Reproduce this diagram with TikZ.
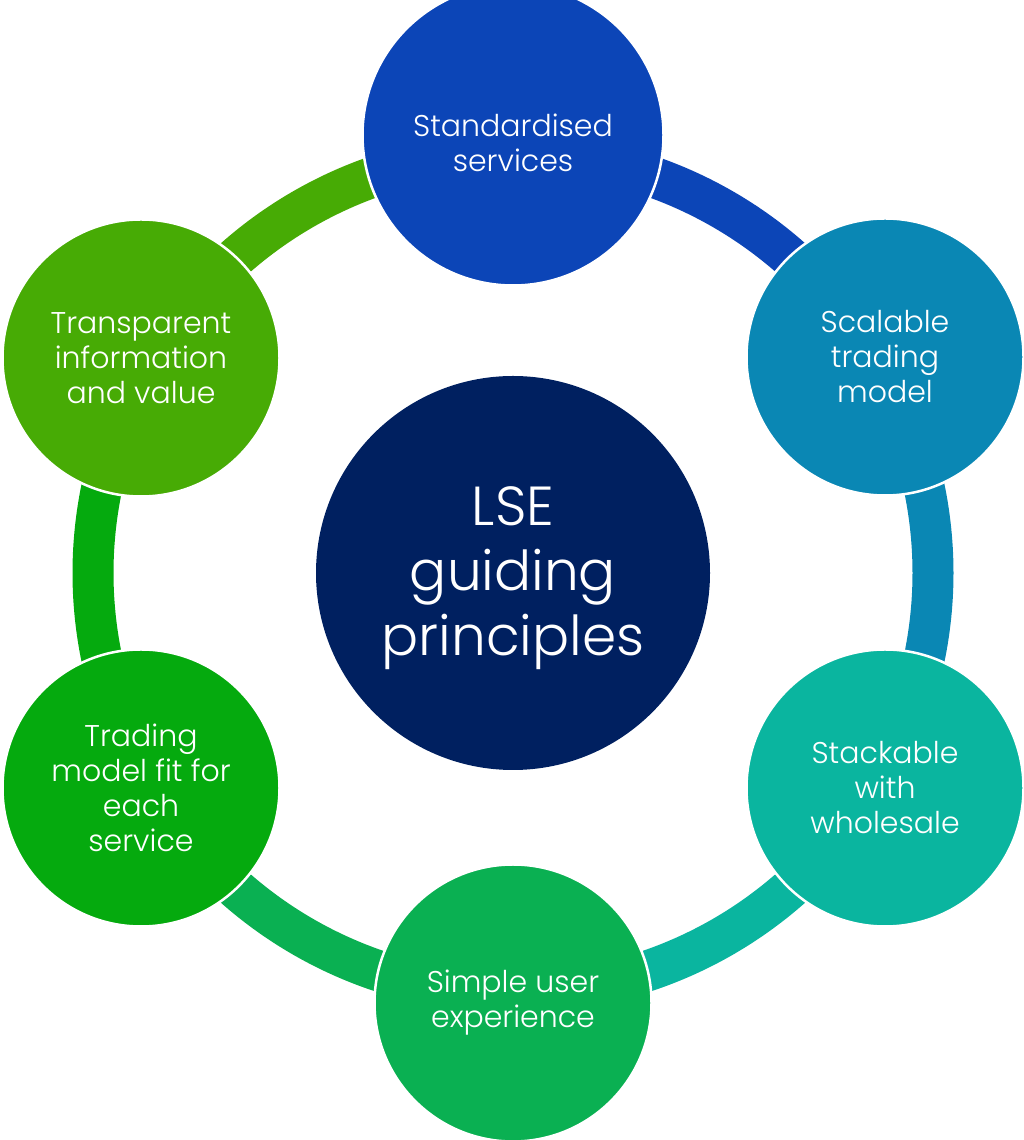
\documentclass[tikz,border=0pt]{standalone}
\usepackage{fontspec}
\setmainfont{Poppins}[UprightFont=* Light]
\definecolor{cA}{HTML}{0C45B7}
\definecolor{cB}{HTML}{0A87B4}
\definecolor{cC}{HTML}{0AB59F}
\definecolor{cD}{HTML}{0AB052}
\definecolor{cE}{HTML}{05AA0E}
\definecolor{cF}{HTML}{47AB05}
\definecolor{hubc}{HTML}{002060}
\tikzset{
  bubble/.style={circle, inner sep=0pt, draw=white, line width=2.5pt, minimum size=277pt,
    text=white, align=center, font=\fontsize{30}{35}\selectfont},
  ring/.style={line width=41pt},
  toptext/.style={text=white, align=center, font=\fontsize{30}{35}\selectfont},
  hubtext/.style={text=white, align=center, font=\fontsize{55}{65}\selectfont},
}
\begin{document}
\begin{tikzpicture}[x=1pt,y=1pt]
\useasboundingbox (0,0) rectangle (1024,1140);
\clip (0,0) rectangle (1024,1140);
\coordinate (ctr) at (513,567);
% ring arcs
\draw[ring, draw=cA] (ctr) ++(90:420) arc[start angle=90, end angle=30, radius=420];
\draw[ring, draw=cB] (ctr) ++(30:420) arc[start angle=30, end angle=-30, radius=420];
\draw[ring, draw=cC] (ctr) ++(-30:420) arc[start angle=-30, end angle=-90, radius=420];
\draw[ring, draw=cD] (ctr) ++(-90:420) arc[start angle=-90, end angle=-150, radius=420];
\draw[ring, draw=cE] (ctr) ++(-150:420) arc[start angle=-150, end angle=-210, radius=420];
\draw[ring, draw=cF] (ctr) ++(150:420) arc[start angle=150, end angle=90, radius=420];
% hub
\node[circle, inner sep=0pt, minimum size=394pt, fill=hubc,
  label={[hubtext, yshift=-5pt]center:LSE\\guiding\\principles}] (hub) at (ctr) {};
% outer circles
\node[bubble, fill=cA, minimum size=301pt,
  label={[toptext, yshift=-8pt]center:Standardised\\services}] (n1) at (513,1005) {};
\node[bubble, fill=cB] (n2) at (885,783) {Scalable\\trading\\model};
\node[bubble, fill=cC] (n3) at (885,352) {Stackable\\with\\wholesale};
\node[bubble, fill=cD] (n4) at (513,137) {Simple user\\experience};
\node[bubble, fill=cE] (n5) at (141,352) {Trading\\model fit for\\each\\service};
\node[bubble, fill=cF] (n6) at (141,782) {Transparent\\information\\and value};
\end{tikzpicture}
\end{document}
